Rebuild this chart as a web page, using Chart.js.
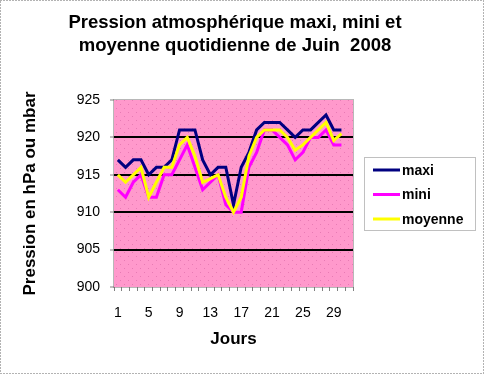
<!DOCTYPE html>
<html><head><meta charset="utf-8">
<script src="https://cdn.jsdelivr.net/npm/chart.js@4/dist/chart.umd.min.js"></script>
<style>html,body{margin:0;padding:0;background:#fff}#wrap{width:484px;height:374px;position:relative}</style>
</head><body><div id="wrap"><canvas id="c" width="484" height="374"></canvas></div>
<script>
const titleLines = ['Pression atmosphérique maxi, mini et', 'moyenne quotidienne de Juin  2008'];
const days = ['1','2','3','4','5','6','7','8','9','10','11','12','13','14','15','16','17','18','19','20','21','22','23','24','25','26','27','28','29','30','31'];
const maxi = [917,916,917,917,915,916,916,917,921,921,921,917,915,916,916,911,916,918,921,922,922,922,921,920,921,921,922,923,921,921];
const mini = [913,912,914,915,912,912,915,915,917,919,916,913,914,915,911,910,910,916,918,921,921,920,919,917,918,920,920,921,919,919];
const moyenne = [915,914,915,916,912,914,916,916,919,920,917.5,914,914.5,915,912,910,912,917.5,920,921,921,921,920,918.3,919,920,921,922,919.6,920.5];
const yTicks = [900,905,910,915,920,925];
const seriesNames = ['maxi','mini','moyenne'];
const seriesColors = ['#000080','#FF00FF','#FFFF00'];
const FONT = "'Liberation Sans', Arial, sans-serif";

function makePattern(ctx){
  const p = document.createElement('canvas'); p.width = 8; p.height = 8;
  const g = p.getContext('2d');
  g.fillStyle = '#FF99CC'; g.fillRect(0,0,8,8);
  g.fillStyle = '#E87AB4';
  g.fillRect(0,0,1,1); g.fillRect(4,4,1,1);
  return ctx.createPattern(p,'repeat');
}

const decor = {
  id:'decor',
  beforeDraw(chart){
    const {ctx, chartArea:a} = chart;
    ctx.save();
    ctx.fillStyle = '#fff'; ctx.fillRect(0,0,chart.width,chart.height);
    ctx.fillStyle = makePattern(ctx);
    ctx.fillRect(a.left,a.top,a.right-a.left,a.bottom-a.top);
    ctx.restore();
  },
  afterDraw(chart){
    const {ctx, chartArea:a} = chart;
    ctx.save();
    // title
    ctx.fillStyle = '#000';
    ctx.font = 'bold 18.5px ' + FONT;
    ctx.textAlign = 'center'; ctx.textBaseline = 'middle';
    ctx.fillText(titleLines[0], 235, 23);
    ctx.fillText(titleLines[1], 235, 46);
    // plot border
    ctx.strokeStyle = '#707070'; ctx.lineWidth = 1; ctx.setLineDash([1,1]);
    ctx.strokeRect(a.left-0.5,a.top-0.5,a.right-a.left+1,a.bottom-a.top+1);
    // outer border
    ctx.strokeStyle = '#666'; ctx.setLineDash([1,2]);
    ctx.strokeRect(0.5,0.5,chart.width-1,chart.height-1);
    // legend
    ctx.setLineDash([1,1]); ctx.strokeStyle = '#808080';
    ctx.fillStyle = '#fff';
    ctx.fillRect(364.5,157.5,111,73);
    ctx.strokeRect(364.5,157.5,111,73);
    ctx.setLineDash([]);
    ctx.font = 'bold 14px ' + FONT;
    ctx.textBaseline = 'middle'; ctx.textAlign = 'left';
    chart.data.datasets.forEach((ds,i)=>{
      const y = 170 + i*24.5;
      ctx.strokeStyle = ds.borderColor; ctx.lineWidth = 3;
      ctx.beginPath(); ctx.moveTo(373,y); ctx.lineTo(400,y); ctx.stroke();
      ctx.fillStyle = '#000';
      ctx.fillText(ds.label, 402, y+1);
    });
    ctx.restore();
  }
};

new Chart(document.getElementById('c'), {
  type:'line',
  data:{
    labels: days,
    datasets:[
      {label:seriesNames[0], data:maxi, borderColor:seriesColors[0], order:2},
      {label:seriesNames[1], data:mini, borderColor:seriesColors[1], order:1},
      {label:seriesNames[2], data:moyenne, borderColor:seriesColors[2], order:0}
    ].map(d=>Object.assign(d,{borderWidth:3, pointRadius:0, tension:0, fill:false}))
  },
  options:{
    responsive:false, animation:false, devicePixelRatio:1,
    layout:{padding:{left:0,right:131,top:100,bottom:0}},
    plugins:{
      legend:{display:false}, tooltip:{enabled:false}, title:{display:false}
    },
    scales:{
      x:{
        offset:true,
        grid:{offset:true, drawOnChartArea:false, drawTicks:true, tickLength:4, color:'#808080'},
        border:{display:false},
        ticks:{autoSkip:false, maxRotation:0, minRotation:0, padding:14, color:'#000',
          font:{family:FONT, size:14},
          callback:(v,i)=> i%4===0 ? days[i] : ''},
        title:{display:true, text:'Jours', color:'#000',
          font:{family:FONT, size:17, weight:'bold', lineHeight:1.2}, padding:{top:0,bottom:24}},
        afterFit:s=>{s.height=87;}
      },
      y:{
        min:900, max:925,
        afterBuildTicks:s=>{s.ticks = yTicks.map(v=>({value:v}));},
        grid:{color:c=> (c.tick && c.tick.value>900 && c.tick.value<925) ? '#000' : 'rgba(0,0,0,0)',
          lineWidth:2, tickLength:4, tickColor:'#808080', tickWidth:1},
        border:{display:false},
        ticks:{padding:10, color:'#000', font:{family:FONT, size:14}},
        title:{display:true, text:'Pression en hPa ou mbar', color:'#000',
          font:{family:FONT, size:17, weight:'bold', lineHeight:1.2}, padding:{top:20,bottom:0}},
        afterFit:s=>{s.width=114;}
      }
    }
  },
  plugins:[decor]
});
</script></body></html>
